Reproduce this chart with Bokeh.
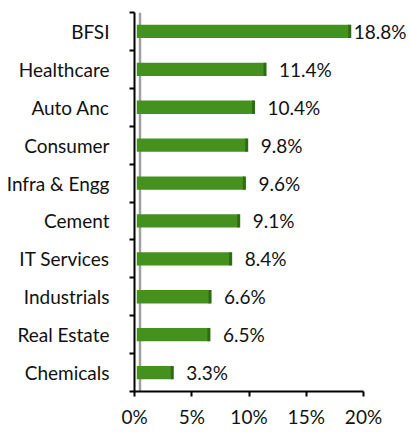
from bokeh.plotting import figure
from bokeh.models import Range1d, FixedTicker, Span, ColumnDataSource
from bokeh.core.properties import value
from bokeh.embed import file_html
from bokeh.resources import INLINE

categories = ["BFSI", "Healthcare", "Auto Anc", "Consumer", "Infra & Engg",
              "Cement", "IT Services", "Industrials", "Real Estate", "Chemicals"]
values = [18.8, 11.4, 10.4, 9.8, 9.6, 9.1, 8.4, 6.6, 6.5, 3.3]
x_ticks = [0, 5, 10, 15, 20]
x_tick_labels = ["0%", "5%", "10%", "15%", "20%"]

n = len(categories)
ypos = [n - i - 0.5 for i in range(n)]
labels = [f"{v:.1f}%" for v in values]
offsets = [4 if v > 15 else 14 for v in values]

src = ColumnDataSource(dict(y=ypos, v=values, lab=labels, off=offsets))

FONT = "Lato"
FS = "19px"
p = figure(width=408, height=430, output_backend="svg", toolbar_location=None,
           x_range=Range1d(0, 23.93), y_range=Range1d(0, n),
           min_border_left=134, min_border_right=0, min_border_top=12, min_border_bottom=35)
p.outline_line_color = None
p.grid.grid_line_color = None
p.background_fill_color = "white"

# gray back wall line (behind the bars)
p.add_layout(Span(location=0.48, dimension="height", line_color="#a0a0a0",
                  line_width=2.5, level="underlay"))

p.hbar(y="y", left=0.2, right="v", height=0.35, source=src,
       fill_color="#45911e", line_color=None)
p.hbar(y="y", left="v", right="v", height=0.35, source=src,
       fill_color=None, line_color="#2e6b14", line_width=3)

p.text(x="v", y="y", text="lab", source=src, x_offset="off",
       text_align="left", text_baseline="middle",
       text_font=value(FONT), text_font_size=FS, text_color="#111111")

# x axis
xa = p.xaxis[0]
xa.ticker = FixedTicker(ticks=x_ticks)
xa.major_label_overrides = {t: l for t, l in zip(x_ticks, x_tick_labels)}
xa.bounds = (0, 20)
xa.axis_line_color = "black"
xa.axis_line_width = 2
xa.major_tick_line_color = "black"
xa.major_tick_line_width = 2
xa.major_tick_out = 5
xa.major_tick_in = 0
xa.minor_tick_line_color = None
xa.major_label_text_font = FONT
xa.major_label_text_font_size = FS
xa.major_label_text_color = "#111111"
xa.major_label_standoff = 8

# y axis
ya = p.yaxis[0]
ya.ticker = FixedTicker(ticks=ypos, minor_ticks=list(range(n + 1)))
ya.major_label_overrides = {y: c for y, c in zip(ypos, categories)}
ya.axis_line_color = "black"
ya.axis_line_width = 2
ya.major_tick_line_color = None
ya.major_tick_out = 0
ya.major_tick_in = 0
ya.minor_tick_line_color = "black"
ya.minor_tick_line_width = 2
ya.minor_tick_out = 5
ya.minor_tick_in = 0
ya.major_label_text_font = FONT
ya.major_label_text_font_size = FS
ya.major_label_text_color = "#111111"
ya.major_label_standoff = 20

open("out.html", "w").write(file_html(p, INLINE))
